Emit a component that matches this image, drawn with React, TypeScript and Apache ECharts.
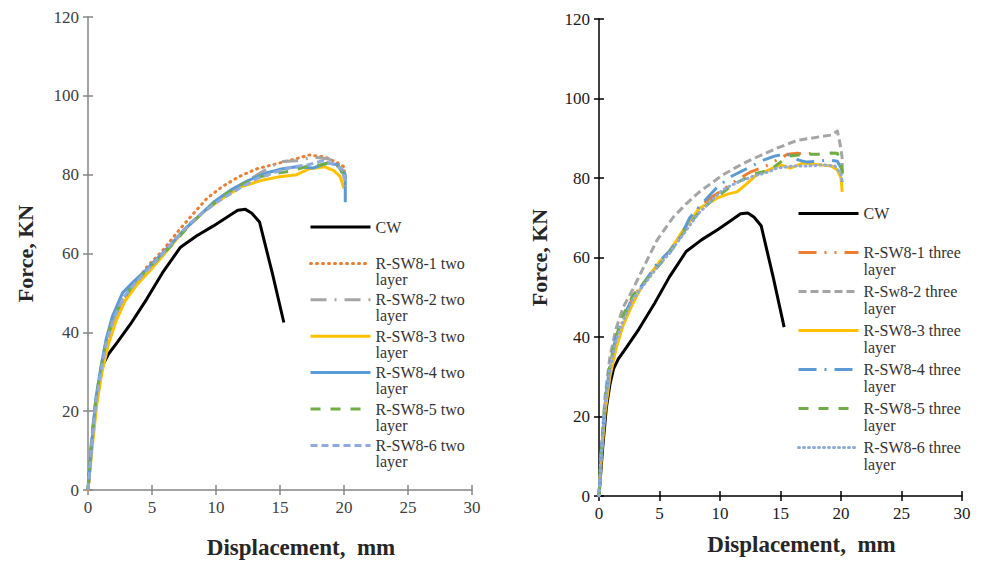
import React, { useEffect, useRef } from "react";
import * as echarts from "echarts";

type P = [number, number];

// ---------- data ----------
const xTickMin = 0, xTickMax = 30, xTickStep = 5;
const yTickMin = 0, yTickMax = 120, yTickStep = 20;

const cw: P[] = [[0,0],[0.3,12],[0.6,22],[0.9,28],[1.2,32],[1.6,34.5],[2.3,37.5],[3.3,42],[4.6,48.5],[5.8,55],[7.2,61.5],[8.5,64.5],[9.8,67],[11,69.5],[11.7,71],[12.3,71.2],[12.8,70.2],[13.4,68],[14.4,55],[15.3,42.5]];

// left panel: two layer
const two1: P[] = [[0,0],[0.3,11],[0.7,23],[1.1,31],[1.6,38],[2.2,44],[3,49],[3.8,53],[4.6,56.6],[5.9,61],[7,65.5],[8.2,70],[9.3,74],[10.5,77],[11.8,79.5],[13.2,81.5],[15,83],[16.2,84],[17.3,85],[18.5,84.5],[19.5,83],[20,82],[20.1,79]];
const two2: P[] = [[0,0],[0.3,12],[0.7,24],[1.1,32],[1.6,39],[2.2,45],[3,50],[4,54],[5,57.5],[6,60.5],[7,64],[8,67.5],[9,70.5],[10,73],[11.3,76],[12.5,78.5],[14,81.5],[15,83.3],[16.3,83.5],[17.6,84.5],[18.8,84],[19.9,82],[20,79]];
const two3: P[] = [[0,0],[0.3,10],[0.7,22],[1.1,30],[1.6,37],[2.2,43],[2.9,48],[3.8,52],[4.8,55.5],[6,60],[7,64],[8,67.5],[9.2,71],[10.5,74],[12,77],[13.5,78.5],[15,79.5],[16.3,80],[17.3,81.5],[18.5,82],[19.2,81],[19.7,79.5],[20,76.5]];
const two4: P[] = [[0,0],[0.3,12],[0.6,23],[1,31],[1.4,38],[1.9,44],[2.7,50],[3.6,53],[4.6,56],[5.5,59],[6.4,62],[7.5,66],[8.5,69],[9.8,73],[11.1,76],[12.5,78.5],[14,80.5],[15.2,81.5],[16.3,82],[17.6,81.7],[18.7,83],[19.5,82.5],[20.1,80],[20.1,73]];
const two5: P[] = [[0,0],[0.2,10],[0.5,20],[0.9,29],[1.3,36],[1.8,42],[2.5,47],[3.4,51.5],[4.5,55.5],[5.6,59],[6.8,63],[8,67.5],[9.2,71],[10.5,74.5],[12,77.5],[13.5,79.5],[15,80.5],[16,81],[17,82],[18.2,82.5],[18.9,83],[19.6,82],[20.1,79]];
const two6: P[] = [[0,0],[0.3,12],[0.6,22],[1,30],[1.4,37],[2,43.5],[2.8,49],[3.7,52.5],[4.7,56],[5.7,59.5],[6.8,63.5],[7.9,67.5],[9,70.5],[10.3,73.5],[11.8,76.5],[13.2,79],[14.5,80.5],[16,82],[17.2,82.5],[18.3,83.5],[19.3,82.5],[20,81],[20.1,77]];

// right panel: three layer
const three1: P[] = [[0,0],[0.2,11],[0.5,23],[0.9,32],[1.4,39],[2,44.5],[2.8,50],[3.8,54],[4.8,58],[5.8,61.5],[6.8,66],[8.1,72],[9,74.5],[10.2,77],[11.4,79.5],[12.5,81.5],[13.8,83],[15,85],[15.6,86],[16.4,86.2],[17.2,86],[18,86.5]];
const three2: P[] = [[0,0],[0.2,12],[0.5,25],[0.9,35],[1.4,42],[2,47.5],[2.8,52],[3.6,57],[4.8,64.4],[6.1,70],[7.2,73.5],[8.3,76.5],[10.2,80.7],[11.4,82.8],[12.5,84.5],[13.6,86],[14.7,87.5],[16.4,89.5],[17.5,90],[18.5,90.5],[19.2,90.8],[19.7,91.8],[19.9,89],[20.1,85],[20.1,81]];
const three3: P[] = [[0,0],[0.2,10],[0.5,21],[0.9,30],[1.4,37],[2,43],[2.8,48.5],[3.5,52.5],[4.2,55.5],[5,58.9],[5.9,61.9],[7,67],[8.3,72.4],[9.8,75],[10.7,76],[11.4,76.5],[12.2,78.5],[13,80.7],[14,82],[15,83.3],[15.8,82.5],[16.9,83.8],[18.3,83.3],[19.2,83],[19.7,82],[20,80],[20.1,76.5]];
const three4: P[] = [[0,0],[0.2,11],[0.5,23],[0.9,33],[1.4,40],[2,45],[2.8,50],[3.8,54],[4.8,58.5],[5.8,61.5],[6.7,65],[7.5,70],[8.5,73.5],[9.8,77.8],[11,80.5],[12.3,82.5],[13.6,84.5],[14.5,85.5],[15.3,86],[15.8,85.8],[16.5,84.5],[17.2,84],[18,84.2],[19,84.5],[19.7,84.2],[20.1,82],[20.1,79]];
const three5: P[] = [[0,0],[0.2,12],[0.5,24],[0.9,33],[1.4,40],[2,45.5],[2.8,50.5],[3.8,54],[4.8,57.5],[5.8,61],[6.5,64],[7.3,67.7],[8.3,71.5],[9.4,74.5],[10.5,77],[11.5,79],[12.8,81],[14.1,82],[15,84],[15.6,85.5],[16.5,85.8],[17.5,86],[18.5,86],[19.2,86.3],[19.7,86.2],[20,84],[20.1,81]];
const three6: P[] = [[0,0],[0.2,11],[0.5,23],[0.9,32],[1.4,39],[2,44],[2.8,49.5],[3.8,53.5],[4.8,57.5],[5.8,61],[7,66],[8.2,71],[9.2,74],[10.2,77],[11.5,79],[12.8,80.5],[14,81.5],[14.7,82.5],[16,83],[17.2,83],[18.5,83.3],[19.5,83],[20,81],[20.1,79]];

const leftNames = ["CW", "R-SW8-1 two layer", "R-SW8-2 two layer", "R-SW8-3 two layer", "R-SW8-4 two layer", "R-SW8-5 two layer", "R-SW8-6 two layer"];
const rightNames = ["CW ", "R-SW8-1 three layer", "R-Sw8-2 three layer", "R-SW8-3 three layer", "R-SW8-4 three layer", "R-SW8-5 three layer", "R-SW8-6 three layer"];
const xTitle = "Displacement,  mm";
const yTitle = "Force, KN";

const FONT = "'Liberation Serif', 'Times New Roman', serif";

const C_BLACK = "#000000";
const C_ORANGE = "#ED7D31";
const C_GRAY = "#A5A5A5";
const C_GOLD = "#FFC000";
const C_BLUE = "#5B9BD5";
const C_GREEN = "#70AD47";
const C_LBLUE = "#8FAADC";

export default function App() {
  const ref = useRef<HTMLDivElement>(null);
  useEffect(() => {
    if (!ref.current) return;
    const chart = echarts.init(ref.current, null, { renderer: "svg" });

    const mkX = (grid: number, color: string, inside: boolean, labelColor: string, nameGap: number) => ({
      type: "value",
      gridIndex: grid,
      position: "bottom",
      min: xTickMin, max: xTickMax, interval: xTickStep,
      name: inside ? "" : xTitle,
      nameLocation: "middle",
      nameGap,
      nameTextStyle: { fontFamily: FONT, fontSize: 23, fontWeight: "bold", color: "#262626", padding: [0, 0, 0, 42] },
      axisLine: { show: !inside, onZero: false, lineStyle: { color, width: 1.5 } },
      axisTick: { show: true, inside, length: 5, lineStyle: { color, width: 1.5 } },
      axisLabel: { show: !inside, fontFamily: FONT, fontSize: 17, color: labelColor, margin: 9 },
      splitLine: { show: false },
    });
    const mkY = (grid: number, color: string, inside: boolean, labelColor: string, nameGap: number) => ({
      type: "value",
      gridIndex: grid,
      position: "left",
      min: yTickMin, max: yTickMax, interval: yTickStep,
      name: inside ? "" : yTitle,
      nameLocation: "middle",
      nameGap,
      nameTextStyle: { fontFamily: FONT, fontSize: 22, fontWeight: "bold", color: "#262626" },
      axisLine: { show: !inside, onZero: false, lineStyle: { color, width: 1.5 } },
      axisTick: { show: true, inside, length: 5, lineStyle: { color, width: 1.5 } },
      axisLabel: { show: !inside, fontFamily: FONT, fontSize: 17, color: labelColor, margin: 9 },
      splitLine: { show: false },
    });

    const line = (name: string, data: P[], axis: number, color: string, type: any, width = 3, cap: any = "butt") => ({
      type: "line",
      name,
      data,
      xAxisIndex: axis,
      yAxisIndex: axis,
      symbol: "none",
      smooth: false,
      lineStyle: { color, width, type, cap, join: "round" },
      itemStyle: { color },
      emphasis: { disabled: true },
    });

    const legendCommon = {
      orient: "vertical",
      padding: 0,
      itemWidth: 60,
      itemHeight: 12,
      selectedMode: false,
      itemStyle: { opacity: 0 },
      lineStyle: { width: 3 },
    };

    const fmt = (n: string) => (n.trim() === "CW" ? " \nCW\n " : " \n" + n.replace(" layer", "") + "\nlayer");

    const option: any = {
      animation: false,
      backgroundColor: "#ffffff",
      grid: [
        { left: 88, top: 17, width: 384, height: 473 },
        { left: 599, top: 19, width: 363, height: 477 },
      ],
      xAxis: [
        mkX(0, "#868686", false, "#404040", 46),
        mkX(0, "#868686", true, "#404040", 46),
        mkX(1, "#000000", false, "#1a1a1a", 37),
        mkX(1, "#000000", true, "#1a1a1a", 37),
      ],
      yAxis: [
        mkY(0, "#868686", false, "#404040", 52),
        mkY(0, "#868686", true, "#404040", 52),
        mkY(1, "#000000", false, "#1a1a1a", 49),
        mkY(1, "#000000", true, "#1a1a1a", 49),
      ],
      legend: [
        {
          ...legendCommon,
          left: 309,
          top: 203,
          itemGap: -11.6,
          data: leftNames,
          formatter: fmt,
          textStyle: { fontFamily: FONT, fontSize: 16, lineHeight: 16, color: "#333333" },
        },
        {
          ...legendCommon,
          left: 797,
          top: 188,
          itemGap: -12,
          data: rightNames,
          formatter: fmt,
          textStyle: { fontFamily: FONT, fontSize: 16, lineHeight: 17, color: "#333333" },
        },
      ],
      series: [
        line(leftNames[0], cw, 0, C_BLACK, "solid", 3),
        line(leftNames[1], two1, 0, C_ORANGE, [1, 5], 3, "round"),
        line(leftNames[2], two2, 0, C_GRAY, [16, 8, 2, 8], 3),
        line(leftNames[3], two3, 0, C_GOLD, "solid", 3),
        line(leftNames[4], two4, 0, C_BLUE, "solid", 3),
        line(leftNames[5], two5, 0, C_GREEN, [10, 10], 3),
        line(leftNames[6], two6, 0, C_LBLUE, [7, 4], 3),

        line(rightNames[0], cw, 2, C_BLACK, "solid", 3),
        line(rightNames[1], three1, 2, C_ORANGE, [18, 8, 2, 8, 2, 8], 3),
        line(rightNames[2], three2, 2, C_GRAY, [8, 4], 3),
        line(rightNames[3], three3, 2, C_GOLD, "solid", 3),
        line(rightNames[4], three4, 2, C_BLUE, [18, 8, 2, 8], 3),
        line(rightNames[5], three5, 2, C_GREEN, [10, 10], 3),
        line(rightNames[6], three6, 2, C_LBLUE, [1, 4], 3, "round"),
      ],
    };
    chart.setOption(option);
    return () => chart.dispose();
  }, []);

  return (
    <div
      ref={ref}
      style={{ position: "fixed", left: 0, top: 0, width: 983, height: 564, background: "#fff" }}
    />
  );
}
